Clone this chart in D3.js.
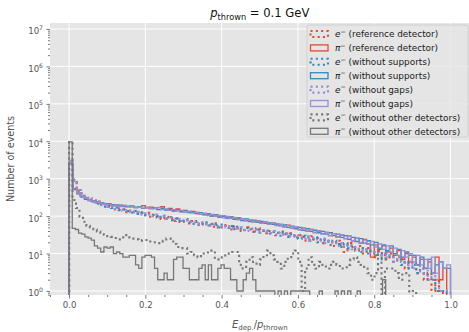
<!DOCTYPE html>
<html><head><meta charset="utf-8">
<script src="https://cdn.jsdelivr.net/npm/d3@7/dist/d3.min.js"></script>
<style>
body{margin:0;background:#fff}
svg{display:block}
text{font-family:"DejaVu Sans",sans-serif}
</style>
</head><body>
<svg id="chart" width="469" height="332"></svg>
<script>
// ---------------- data ----------------
const xTickValues = [0.0, 0.2, 0.4, 0.6, 0.8, 1.0];
const xTickLabels = ["0.0", "0.2", "0.4", "0.6", "0.8", "1.0"];
const yTickExponents = [0, 1, 2, 3, 4, 5, 6, 7];
const nBins = 100;
// upper end of each series' histogram range (lower end 0)
const rangeMax = [1.0, 1.0, 1.0, 1.0, 1.0, 1.0, 0.91, 0.83];

const particle = ["e", "π", "e", "π", "e", "π", "e", "π"];
const setup = ["reference detector", "reference detector", "without supports", "without supports",
               "without gaps", "without gaps", "without other detectors", "without other detectors"];

const eRef = [3000, 950, 480, 410, 310, 290, 240, 245, 200, 205,
 178, 190, 150, 158, 152, 128, 140, 118, 126, 110,
 122, 96, 108, 100, 84, 96, 90, 74, 88, 70,
 80, 64, 74, 70, 58, 66, 60, 52, 64, 50,
 56, 58, 44, 52, 47, 40, 50, 44, 38, 47,
 42, 35, 40, 38, 31, 39, 33, 29, 35, 27,
 31, 28, 22, 29, 24, 26, 19, 24, 21, 16,
 22, 17, 11, 19, 15, 12, 16, 10, 14, 11,
 8, 12, 9, 7, 10, 6, 8, 7, 4, 6,
 5, 3, 4, 2, 3, 1, 2, 1, 0, 0];
const piRef = [2600, 540, 420, 330, 305, 262, 255, 228, 226, 205,
 215, 196, 200, 186, 194, 180, 188, 172, 180, 190,
 166, 174, 160, 168, 178, 152, 160, 140, 156, 134,
 142, 124, 134, 116, 124, 112, 114, 102, 108, 96,
 100, 90, 96, 84, 88, 84, 76, 80, 70, 76,
 66, 70, 62, 66, 58, 60, 52, 57, 48, 52,
 44, 48, 40, 44, 37, 40, 34, 37, 30, 34,
 28, 31, 25, 29, 22, 26, 19, 24, 18, 8,
 17, 13, 16, 11, 14, 9, 12, 7, 10, 6,
 8, 5, 7, 4, 6, 3, 8, 2, 4, 0];
const eNoSup = [2900, 870, 540, 350, 330, 260, 265, 215, 220, 180,
 192, 165, 170, 145, 150, 136, 125, 138, 115, 122,
 104, 114, 98, 92, 104, 86, 94, 78, 86, 72,
 82, 68, 62, 74, 60, 68, 56, 62, 58, 50,
 60, 48, 54, 45, 52, 42, 48, 46, 39, 44,
 36, 42, 34, 38, 36, 30, 37, 28, 33, 30,
 25, 30, 27, 22, 27, 20, 24, 22, 17, 22,
 18, 15, 19, 14, 16, 13, 11, 14, 10, 12,
 9, 11, 7, 10, 8, 6, 7, 5, 6, 4,
 5, 3, 4, 3, 2, 2, 1, 1, 1, 0];
const piNoSup = [2500, 520, 395, 340, 280, 270, 240, 240, 215, 214,
 200, 204, 188, 196, 180, 186, 176, 170, 178, 162,
 172, 158, 166, 150, 160, 146, 152, 136, 148, 130,
 138, 126, 128, 118, 124, 108, 116, 100, 108, 94,
 100, 88, 94, 82, 90, 76, 84, 72, 78, 68,
 72, 64, 66, 60, 62, 55, 58, 50, 54, 46,
 50, 42, 46, 39, 42, 36, 39, 33, 36, 30,
 33, 27, 30, 24, 27, 21, 25, 19, 22, 17,
 20, 14, 17, 12, 16, 10, 13, 8, 11, 9,
 9, 5, 8, 4, 7, 3, 5, 6, 4, 4];
const eNoGap = [2950, 940, 500, 400, 305, 300, 235, 240, 196, 212,
 176, 182, 158, 170, 140, 146, 128, 134, 130, 110,
 120, 100, 110, 94, 100, 88, 92, 80, 84, 74,
 76, 70, 72, 62, 68, 62, 56, 60, 60, 50,
 54, 50, 52, 46, 48, 50, 40, 46, 44, 38,
 42, 38, 36, 40, 32, 36, 32, 34, 28, 31,
 29, 25, 29, 23, 26, 22, 25, 19, 22, 20,
 16, 19, 15, 17, 13, 15, 12, 13, 14, 10,
 11, 9, 10, 8, 9, 6, 8, 6, 5, 6,
 4, 5, 3, 4, 2, 3, 2, 1, 1, 1];
const piNoGap = [2550, 505, 410, 320, 300, 262, 252, 226, 222, 204,
 206, 192, 198, 184, 190, 176, 184, 170, 176, 164,
 170, 158, 162, 170, 150, 156, 142, 150, 136, 142,
 126, 136, 120, 128, 112, 120, 104, 112, 98, 104,
 90, 98, 86, 92, 80, 86, 75, 80, 70, 74,
 64, 70, 60, 66, 56, 60, 52, 56, 48, 52,
 43, 48, 40, 44, 36, 41, 33, 37, 30, 34,
 27, 32, 25, 29, 22, 26, 20, 23, 18, 21,
 15, 18, 13, 16, 11, 14, 9, 12, 8, 10,
 6, 9, 5, 7, 4, 8, 3, 6, 4, 5];
const eNoOther = [9500, 270, 165, 96, 71, 55, 50, 44, 39, 36,
 32, 29, 28, 26, 24, 27, 31, 27, 25, 24,
 22, 23, 23, 21, 20, 19, 19, 22, 25, 25,
 18, 15, 14, 14, 10, 11, 9, 8, 10, 10,
 12, 12, 7, 7, 8, 9, 10, 11, 11, 5,
 4, 6, 8, 6, 5, 7, 9, 12, 9, 7,
 6, 4, 6, 8, 10, 12, 6, 1, 4, 8,
 5, 4, 6, 5, 4, 5, 6, 5, 4, 4,
 5, 7, 8, 6, 5, 4, 3, 2, 3, 8,
 0, 4, 4, 4, 3, 2, 3, 3, 0, 1];
const piNoOther = [9600, 47, 44, 35, 33, 28, 26, 23, 16, 14,
 11, 15, 14, 15, 10, 11, 10, 8, 8, 9,
 9, 5, 4, 8, 9, 9, 8, 4, 2, 2,
 3, 2, 2, 7, 8, 8, 4, 4, 2, 2,
 2, 4, 5, 2, 5, 2, 2, 4, 5, 4,
 4, 2, 2, 1, 1, 2, 3, 4, 2, 1,
 1, 1, 1, 1, 1, 0, 1, 0, 1, 0,
 1, 1, 1, 1, 1, 1, 0, 0, 0, 1,
 0, 0, 0, 0, 1, 0, 1, 0, 1, 0,
 0, 1, 0, 0, 0, 0, 0, 0, 0, 2];

const seriesValues = [eRef, piRef, eNoSup, piNoSup, eNoGap, piNoGap, eNoOther, piNoOther];
const seriesColors = ["#E24A33", "#E24A33", "#348ABD", "#348ABD", "#988ED5", "#988ED5", "#777777", "#777777"];
const seriesDotted = [true, false, true, false, true, false, true, false];

// ---------------- layout ----------------
const svg = d3.select("#chart");
const pL = 50, pR = 469.6, pT = 23, pB = 295;
const x = d3.scaleLinear().domain([-0.05, 1.05]).range([pL, pR]);
const y = d3.scaleLog().domain([Math.pow(10, -0.107), Math.pow(10, 7.16)]).range([pB, pT]);

svg.append("defs").append("clipPath").attr("id", "clip")
  .append("rect").attr("x", pL).attr("y", pT).attr("width", pR - pL).attr("height", pB - pT);

svg.append("rect").attr("x", pL).attr("y", pT).attr("width", pR - pL).attr("height", pB - pT)
  .attr("fill", "#E5E5E5");

// grid
const grid = svg.append("g");
xTickValues.forEach(v => grid.append("line").attr("x1", x(v)).attr("x2", x(v)).attr("y1", pT).attr("y2", pB)
  .attr("stroke", "#fff").attr("stroke-width", 1));
yTickExponents.forEach(e => grid.append("line").attr("x1", pL).attr("x2", pR)
  .attr("y1", y(Math.pow(10, e))).attr("y2", y(Math.pow(10, e))).attr("stroke", "#fff").attr("stroke-width", 1));

// histograms
const plot = svg.append("g").attr("clip-path", "url(#clip)");
const floorVal = 1e-3;
const line = d3.line().x(d => x(d[0])).y(d => y(Math.max(d[1], floorVal)));
seriesValues.forEach((vals, s) => {
  const w = rangeMax[s] / nBins;
  const pts = [[0, 0]];
  vals.forEach((v, i) => { pts.push([i * w, v]); pts.push([(i + 1) * w, v]); });
  pts.push([vals.length * w, 0]);
  const p = plot.append("path").attr("d", line(pts)).attr("fill", "none")
    .attr("stroke", seriesColors[s]).attr("stroke-linejoin", "miter");
  if (seriesDotted[s]) p.attr("stroke-width", 2.1).attr("stroke-dasharray", "2.1,3.2");
  else p.attr("stroke-width", 1.3);
});

// axes
const tickColor = "#555555";
const xMinor = d3.range(-1, 22).map(i => i * 0.05).filter(v => v >= -0.0501 && v <= 1.0501 && Math.abs(Math.round(v / 0.2) * 0.2 - v) > 1e-6);
const xAxis = svg.append("g").attr("transform", `translate(0,${pB})`)
  .call(d3.axisBottom(x).tickValues(xTickValues).tickSize(3.5).tickPadding(3.5)
    .tickFormat((d, i) => xTickLabels[i]));
svg.append("g").attr("transform", `translate(0,${pB})`)
  .call(d3.axisBottom(x).tickValues(xMinor).tickSize(2).tickFormat(""));

const yMinor = [];
for (let e = -1; e <= 7; e++) for (let k = 2; k <= 9; k++) {
  const v = k * Math.pow(10, e);
  if (v >= y.domain()[0] && v <= y.domain()[1]) yMinor.push(v);
}
svg.append("g").attr("transform", `translate(${pL},0)`)
  .call(d3.axisLeft(y).tickValues(yTickExponents.map(e => Math.pow(10, e))).tickSize(3.5).tickPadding(3.5).tickFormat(""));
svg.append("g").attr("transform", `translate(${pL},0)`)
  .call(d3.axisLeft(y).tickValues(yMinor).tickSize(2).tickFormat(""));

svg.selectAll(".domain").remove();
svg.selectAll(".tick line").attr("stroke", tickColor).attr("stroke-width", 0.8);
xAxis.selectAll(".tick text").attr("fill", tickColor).attr("font-size", 8.6)
  .attr("font-family", "DejaVu Sans");

// y tick labels with superscripts
yTickExponents.forEach(e => {
  const t = svg.append("text").attr("x", pL - 7).attr("y", y(Math.pow(10, e)) + 5.5)
    .attr("text-anchor", "end").attr("fill", tickColor).attr("font-size", 8.6);
  t.append("tspan").text("10");
  t.append("tspan").attr("dy", -4.2).attr("font-size", 6.1).text(String(e));
});

// title
const title = svg.append("text").attr("x", (pL + pR) / 2).attr("y", 17).attr("text-anchor", "middle")
  .attr("font-size", 11.6).attr("fill", "#111");
title.append("tspan").attr("font-style", "italic").text("p");
title.append("tspan").attr("dy", 2.5).attr("font-size", 8.2).text("thrown");
title.append("tspan").attr("dy", -2.5).text(" = 0.1 GeV");

// x label
const xl = svg.append("text").attr("x", (pL + pR) / 2).attr("y", 327.5).attr("text-anchor", "middle")
  .attr("font-size", 10).attr("fill", tickColor);
xl.append("tspan").attr("font-style", "italic").text("E");
xl.append("tspan").attr("dy", 2.3).attr("font-size", 7).text("dep.");
xl.append("tspan").attr("dy", -2.3).text("/");
xl.append("tspan").attr("font-style", "italic").text("p");
xl.append("tspan").attr("dy", 2.3).attr("font-size", 7).text("thrown");

// y label
svg.append("text").attr("transform", `translate(13.5,${(pT + pB) / 2}) rotate(-90)`)
  .attr("text-anchor", "middle").attr("font-size", 9.6).attr("fill", tickColor).text("Number of events");

// legend
const lg = svg.append("g");
const lgX = 307, lgY = 25, lgW = 161, lgH = 112, rowH = 13.9, row0 = 34;
lg.append("rect").attr("x", lgX).attr("y", lgY).attr("width", lgW).attr("height", lgH).attr("rx", 2)
  .attr("fill", "#E5E5E5").attr("fill-opacity", 0.85).attr("stroke", "#cccccc").attr("stroke-width", 0.8);
seriesValues.forEach((vals, s) => {
  const cy = row0 + s * rowH;
  const r = lg.append("rect").attr("x", 310.5).attr("y", cy - 3).attr("width", 17.5).attr("height", 6)
    .attr("fill", "none").attr("stroke", seriesColors[s]);
  if (seriesDotted[s]) r.attr("stroke-width", 2.1).attr("stroke-dasharray", "2.1,3.2");
  else r.attr("stroke-width", 1.3);
  const t = lg.append("text").attr("x", 335).attr("y", cy + 3.2).attr("font-size", 8.9).attr("fill", "#1a1a1a");
  t.append("tspan").attr("font-style", "italic").text(particle[s]);
  t.append("tspan").attr("dy", -3.5).attr("font-size", 6.3).text("−");
  t.append("tspan").attr("dy", 3.5).text(" (" + setup[s] + ")");
});
</script>
</body></html>
